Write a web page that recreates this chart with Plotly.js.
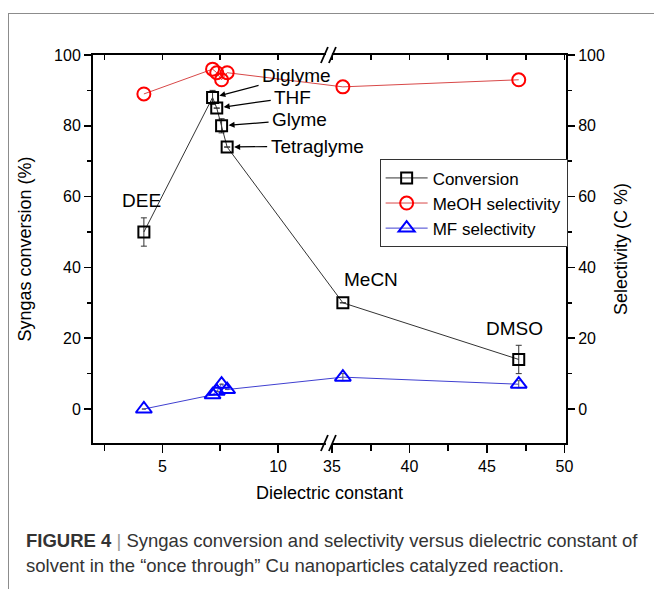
<!DOCTYPE html>
<html>
<head>
<meta charset="utf-8">
<script src="https://cdn.plot.ly/plotly-3.0.1.min.js"></script>
<style>
  html, body { margin: 0; padding: 0; background: #fff; }
  #wrap { position: relative; width: 654px; height: 589px; overflow: hidden; }
  #chart { width: 654px; height: 589px; }
  #frame { position: absolute; left: 8px; top: 13px; width: 700px; height: 700px;
           border: 1px solid #8c8c8c; pointer-events: none; z-index: 10; }
</style>
</head>
<body>
<div id="wrap"><div id="chart"></div><div id="frame"></div></div>
<script>
// ---- data ----
const solvents      = ['DEE', 'Diglyme', 'THF', 'Glyme', 'Tetraglyme', 'MeCN', 'DMSO'];
const dielectric    = [4.2, 7.17, 7.35, 7.56, 7.8, 35.7, 47.05];
const conversion    = [50, 88, 85, 80, 74, 30, 14];
const conversionErr = [4, 2, 0, 2, 0, 0, 4];
const meohSel       = [89, 96, 95, 93, 95, 91, 93];
const mfSel         = [0, 4, 5, 7, 5.5, 9, 7];
const mfErr         = [0, 0, 0, 0, 0, 1, 1];
const xTickLabels   = [5, 10, 35, 40, 45, 50];
const xMinorTicks   = [2.5, 7.5, 37.5, 42.5, 47.5];

// ---- broken x axis: two linear segments joined ----
const LEFT_MIN = 2, BREAK_AT = 12.2, RIGHT_MIN = 34.8, RIGHT_MAX = 50.1, RATIO = 0.67;
function mapX(v) { return v <= BREAK_AT ? v : BREAK_AT + (v - RIGHT_MIN) * RATIO; }
const xs = dielectric.map(mapX);
const xRange = [LEFT_MIN, mapX(RIGHT_MAX)];
const yRange = [-9.6, 100];

const FONT = 'Liberation Sans, Arial, sans-serif';

const traces = [
  { x: xs, y: conversion, name: 'Conversion', type: 'scatter', mode: 'lines+markers',
    xaxis: 'x', yaxis: 'y',
    line: { color: '#333333', width: 1 },
    marker: { symbol: 'square-open', size: 11, color: '#000', line: { width: 2, color: '#000' } },
    error_y: { type: 'data', array: conversionErr, visible: true, color: '#333', thickness: 1, width: 3 } },
  { x: xs, y: meohSel, name: 'MeOH selectivity', type: 'scatter', mode: 'lines+markers',
    xaxis: 'x', yaxis: 'y2',
    line: { color: '#d84848', width: 1 },
    marker: { symbol: 'circle-open', size: 13, color: '#ff0000', line: { width: 2, color: '#ff0000' } } },
  { x: xs, y: mfSel, name: 'MF selectivity', type: 'scatter', mode: 'lines+markers',
    xaxis: 'x', yaxis: 'y2',
    line: { color: '#4040d0', width: 1 },
    marker: { symbol: 'triangle-up-open', size: 14, color: '#0000ff', line: { width: 2, color: '#0000ff' } },
    error_y: { type: 'data', array: mfErr, visible: true, color: '#555', thickness: 1, width: 2 } },
  { x: [], y: [], xaxis: 'x2', yaxis: 'y', showlegend: false, hoverinfo: 'skip', type: 'scatter' }
];

const tickVals = xTickLabels.map(mapX);
const tickText = xTickLabels.map(String);
const minorVals = xMinorTicks.map(mapX);

const axisCommon = {
  showgrid: false, zeroline: false, showline: true, linecolor: '#000', linewidth: 2,
  tickcolor: '#000', tickwidth: 1.6, tickfont: { family: FONT, size: 16, color: '#000' }
};

// arrowed labels for the ether solvents
const arrowLabels = [
  { i: 1, ax: 84, ay: -22 },
  { i: 2, ax: 76, ay: -11 },
  { i: 3, ax: 78, ay: -6 },
  { i: 4, ax: 90, ay: -1 }
];
const annotations = arrowLabels.map(a => ({
  x: xs[a.i], y: conversion[a.i], xref: 'x', yref: 'y', text: solvents[a.i],
  showarrow: true, ax: a.ax, ay: a.ay, arrowhead: 2, arrowsize: 1, arrowwidth: 1.2,
  arrowcolor: '#000', standoff: 7, borderpad: 3,
  font: { family: FONT, size: 19, color: '#000' }
}));
// plain labels
const plainLabels = [
  { i: 0, xs: -2, ys: 32 },
  { i: 5, xs: 28, ys: 23 },
  { i: 6, xs: -4, ys: 31 }
];
plainLabels.forEach(p => annotations.push({
  x: xs[p.i], y: conversion[p.i], xref: 'x', yref: 'y', text: solvents[p.i],
  showarrow: false, xshift: p.xs, yshift: p.ys,
  font: { family: FONT, size: 19, color: '#000' }
}));
// caption
annotations.push({
  xref: 'paper', yref: 'paper', x: -0.145, y: -0.25, xanchor: 'left', yanchor: 'middle',
  showarrow: false, align: 'left',
  text: '<b>FIGURE 4</b> <span style="color:#9a9a9a">|</span> Syngas conversion and selectivity versus dielectric constant of',
  font: { family: FONT, size: 18.5, color: '#333' }
});
annotations.push({
  xref: 'paper', yref: 'paper', x: -0.145, y: -0.317, xanchor: 'left', yanchor: 'middle',
  showarrow: false, align: 'left',
  text: 'solvent in the \u201conce through\u201d Cu nanoparticles catalyzed reaction.',
  font: { family: FONT, size: 18.5, color: '#333' }
});

// axis-break marks
const shapes = [];
[0, 1].forEach(yAnc => {
  shapes.push({ type: 'rect', layer: 'above', xref: 'x', xsizemode: 'pixel', xanchor: BREAK_AT,
    x0: -3, x1: 3, yref: 'paper', ysizemode: 'pixel', yanchor: yAnc, y0: -2, y1: 2,
    fillcolor: '#fff', line: { width: 0 } });
  [-4.5, 3.5].forEach(off => shapes.push({ type: 'line', layer: 'above', xref: 'x', xsizemode: 'pixel',
    xanchor: BREAK_AT, x0: off - 3.5, x1: off + 3.5, yref: 'paper', ysizemode: 'pixel', yanchor: yAnc,
    y0: -8, y1: 8, line: { color: '#000', width: 1.8 } }));
});

const layout = {
  width: 654, height: 589,
  margin: { l: 93, r: 88, t: 55, b: 146 },
  paper_bgcolor: '#fff', plot_bgcolor: '#fff',
  font: { family: FONT, color: '#000' },
  showlegend: true,
  legend: {
    x: 0.606, y: 0.731, xanchor: 'left', yanchor: 'top',
    bgcolor: '#fff', bordercolor: '#333', borderwidth: 1, itemwidth: 42,
    font: { family: FONT, size: 17, color: '#000' }, tracegroupgap: 0
  },
  xaxis: Object.assign({}, axisCommon, {
    range: xRange, tickmode: 'array', tickvals: tickVals, ticktext: tickText,
    ticks: 'outside', ticklen: 8,
    minor: { tickmode: 'array', tickvals: minorVals, ticks: 'outside', ticklen: 6, tickwidth: 1.6, tickcolor: '#000' },
    title: { text: 'Dielectric constant', font: { family: FONT, size: 18, color: '#000' }, standoff: 12 }
  }),
  xaxis2: Object.assign({}, axisCommon, {
    range: xRange, overlaying: 'x', side: 'top', anchor: 'y',
    tickmode: 'array', tickvals: tickVals, ticktext: tickText, showticklabels: false,
    ticks: 'inside', ticklen: 5,
    minor: { tickmode: 'array', tickvals: minorVals, ticks: 'inside', ticklen: 5, tickwidth: 1.6, tickcolor: '#000' }
  }),
  yaxis: Object.assign({}, axisCommon, {
    range: yRange, tickmode: 'linear', tick0: 0, dtick: 20, ticks: 'outside', ticklen: 7,
    minor: { dtick: 10, tick0: 0, ticks: 'outside', ticklen: 4, tickwidth: 1.6, tickcolor: '#000' },
    title: { text: 'Syngas conversion (%)', font: { family: FONT, size: 18, color: '#000' }, standoff: 18 }
  }),
  yaxis2: Object.assign({}, axisCommon, {
    range: yRange, overlaying: 'y', side: 'right', anchor: 'x',
    tickmode: 'linear', tick0: 0, dtick: 20, ticks: 'outside', ticklen: 7,
    minor: { dtick: 10, tick0: 0, ticks: 'outside', ticklen: 4, tickwidth: 1.6, tickcolor: '#000' },
    title: { text: 'Selectivity (C %)', font: { family: FONT, size: 18, color: '#000' }, standoff: 10 }
  }),
  annotations: annotations,
  shapes: shapes
};

Plotly.newPlot('chart', traces, layout, { displayModeBar: false, staticPlot: true });
</script>
</body>
</html>
